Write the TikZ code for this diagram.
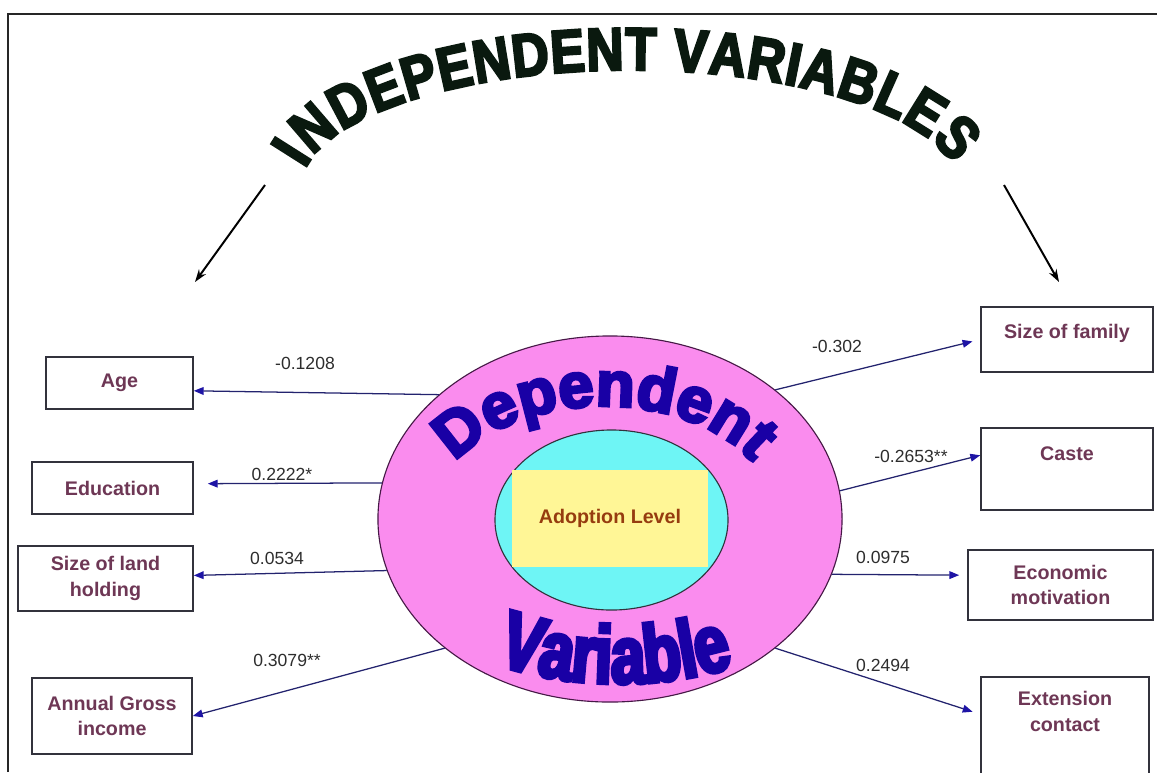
\documentclass[tikz,border=0pt]{standalone}
\usepackage{fontspec}
\setmainfont{Liberation Sans}
\newfontfamily\archfont{Liberation Sans}[FakeStretch=0.85,BoldFeatures={FakeBold=4}]
\newfontfamily\depfont{Liberation Sans}[BoldFeatures={FakeBold=5}]
\newfontfamily\varfont{Liberation Sans}[FakeStretch=0.76,BoldFeatures={FakeBold=5}]
\usetikzlibrary{shapes.geometric,arrows.meta,decorations.text}
\definecolor{pinkfill}{RGB}{250,140,238}
\definecolor{cyanfill}{RGB}{110,245,245}
\definecolor{yellowfill}{RGB}{255,246,150}
\definecolor{navytext}{RGB}{25,0,165}
\definecolor{boxtext}{RGB}{110,55,85}
\definecolor{boxline}{RGB}{50,50,60}
\definecolor{adopttext}{RGB}{150,60,15}
\definecolor{arrowline}{RGB}{35,35,110}
\definecolor{tipblue}{RGB}{30,20,165}
\definecolor{coeftext}{RGB}{45,45,45}
\definecolor{titlecol}{RGB}{10,25,15}
\definecolor{ringline}{RGB}{70,25,70}
\newcommand\ttlstyle{\archfont\bfseries\fontsize{43}{45}\selectfont}
\newcommand\depstyle{\depfont\bfseries\fontsize{45}{47}\selectfont}
\newcommand\varstyle{\varfont\bfseries\fontsize{58}{60}\selectfont}

\begin{document}
\begin{tikzpicture}[
    x=0.025cm, y=0.025cm,
    >={Triangle[length=7pt,width=5.5pt,color=tipblue]},
    varbox/.style={draw=boxline, line width=1.1pt, fill=white, align=center,
                   text=boxtext, font=\bfseries\fontsize{14}{18}\selectfont},
    coef/.style={font=\fontsize{12.5}{14}\selectfont, text=coeftext, inner sep=1pt},
    arr/.style={->, line width=0.9pt, draw=arrowline},
    titlearr/.style={-{Stealth[length=9pt,width=6pt]}, line width=1.4pt, draw=black},
    ring/.style={ellipse, draw=ringline, line width=0.8pt, inner sep=0pt},
]
\useasboundingbox (0,0) rectangle (1157,-772);
\clip (0,0) rectangle (1157,-772);

% ============ FRAME ============
\draw[line width=1.6pt, black!85] (8,-772) -- (8,-14) -- (1157,-14);

% ============ TITLE ARC ============
\path[decorate, decoration={text along path, text={|\ttlstyle|INDEPENDENT VARIABLES},
      text color=titlecol, text align={fit to path}}]
    (630,-190) ++(170:330 and 120) arc[start angle=170, end angle=12, x radius=330, y radius=120];

\coordinate (tl0) at (265,-185);
\coordinate (tl1) at (195,-282);
\coordinate (tr0) at (1004,-185);
\coordinate (tr1) at (1059,-282);
\draw[titlearr] (tl0) -- (tl1);
\draw[titlearr] (tr0) -- (tr1);

% ============ CENTRE: DEPENDENT VARIABLE ============
\node[ring, fill=pinkfill, minimum width=11.6cm, minimum height=9.15cm] (dep) at (610,-519) {};
\node[ring, draw=boxline, fill=cyanfill, minimum width=5.825cm, minimum height=4.5cm] (lev) at (611.5,-520) {};
\node[fill=yellowfill, minimum width=4.9cm, minimum height=2.425cm, text=adopttext,
      font=\bfseries\fontsize{14}{16}\selectfont] (ado) at (610,-518.5) {Adoption Level};

\path[decorate, decoration={text along path, text={|\depstyle|Dependent},
      text color=navytext, text align=center}]
    (604,-519) ++(158:172 and 113) arc[start angle=158, end angle=22, x radius=172, y radius=113];
\path[decorate, decoration={text along path, text={|\varstyle|Variable},
      text color=navytext, text align=center}]
    (490,-662) .. controls (568,-690) and (662,-690) .. (740,-665);

% ============ LEFT: INDEPENDENT VARIABLES ============
\node[varbox, minimum width=3.675cm, minimum height=1.3cm] (age) at (119.5,-383) {Age};
\node[varbox, minimum width=4.025cm, minimum height=1.3cm] (edu) at (112.5,-488) {Education};
\node[varbox, minimum width=4.375cm, minimum height=1.625cm] (land) at (105.5,-578.5) {Size of land\\holding};
\node[varbox, minimum width=4cm, minimum height=1.9cm] (inc) at (112,-716) {Annual Gross\\income};

% ============ RIGHT: INDEPENDENT VARIABLES ============
\node[varbox, minimum width=4.3cm, minimum height=1.625cm, text height=0.36cm, text depth=0.39cm]
     (fam) at (1067,-339.5) {Size of family};
\node[varbox, minimum width=4.3cm, minimum height=2.05cm, text height=0.36cm, text depth=0.81cm]
     (caste) at (1067,-469) {Caste};
\node[varbox, minimum width=4.625cm, minimum height=1.75cm] (eco) at (1060.5,-585) {Economic\\motivation};
\node[varbox, minimum width=4.2cm, minimum height=3.075cm, text height=0.36cm, text depth=2.0cm]
     (ext) at (1065,-738.5) {\begin{tabular}[t]{@{}c@{}}Extension\\contact\end{tabular}};

% ============ ARROWS: DEPENDENT -> VARIABLES ============
\draw[arr] (dep.144.4) -- (age.-6);
\draw[arr, shorten >=0.35cm] (dep.171.3) -- (edu.3);
\draw[arr] (dep.193.7) -- (land.2);
\draw[arr] (dep.218.9) -- (inc.east);
\draw[arr, shorten >=0.2cm] (dep.38.1) -- (fam.west);
\draw[arr] (dep.7.9) -- (caste.171);
\draw[arr, shorten >=0.2cm] (dep.-14.1) -- (eco.174);
\draw[arr, shorten >=0.2cm] (dep.-38.8) -- (ext.164);

% coefficients
\node[coef] (cage) at (305,-363) {-0.1208};
\node[coef] (cedu) at (282,-474) {0.2222*};
\node[coef] (cland) at (277,-558) {0.0534};
\node[coef] (cinc) at (287,-660) {0.3079**};
\node[coef] (cfam) at (837,-346) {-0.302};
\node[coef] (ccaste) at (911,-456) {-0.2653**};
\node[coef] (ceco) at (883,-557) {0.0975};
\node[coef] (cext) at (883,-665) {0.2494};

\end{tikzpicture}
\end{document}
